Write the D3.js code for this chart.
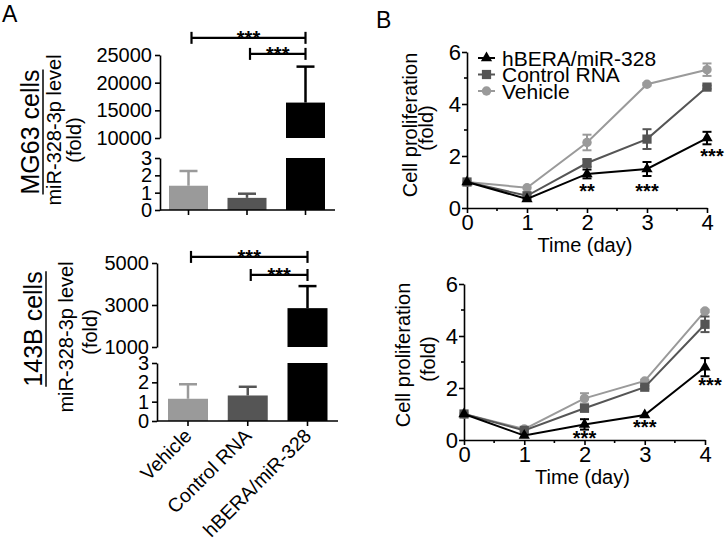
<!DOCTYPE html>
<html><head><meta charset="utf-8">
<script src="https://cdn.jsdelivr.net/npm/d3@7"></script>
<style>
body{margin:0;background:#fff}
svg{display:block}
text{font-family:"Liberation Sans",Arial,Helvetica,sans-serif;fill:#000}
</style>
</head><body>
<svg id="c" width="725" height="543"></svg>
<script>
// ---------- DATA ----------
const groups = ["Vehicle", "Control RNA", "hBERA/miR-328"];
const mg63Mean = [1.4, 0.7, 16400];
const mg63Err  = [0.85, 0.24, 6500];
const b143Mean = [1.15, 1.32, 2850];
const b143Err  = [0.75, 0.45, 1050];
const lowTicks = [0, 1, 2, 3];
const mg63HighTicks = [10000, 15000, 20000, 25000];
const b143HighTicks = [1000, 3000, 5000];
const mg63Sig = [
  {from: "Vehicle", to: "hBERA/miR-328", level: 28100, label: "***"},
  {from: "Control RNA", to: "hBERA/miR-328", level: 25200, label: "***"}
];
const b143Sig = [
  {from: "Vehicle", to: "hBERA/miR-328", level: 5290, label: "***"},
  {from: "Control RNA", to: "hBERA/miR-328", level: 4430, label: "***"}
];

const days = [0, 1, 2, 3, 4];
const seriesNames = ["hBERA/miR-328", "Control RNA", "Vehicle"];
const topHbera    = [1.0, 0.35, 1.31, 1.5, 2.69];
const topHberaErr = [0, 0, 0.17, 0.27, 0.24];
const topCtrl     = [1.0, 0.47, 1.73, 2.65, 4.65];
const topCtrlErr  = [0, 0, 0.15, 0.38, 0.06];
const topVeh      = [1.0, 0.78, 2.52, 4.76, 5.32];
const topVehErr   = [0, 0, 0.3, 0.05, 0.24];
const botHbera    = [1.0, 0.17, 0.6, 0.96, 2.8];
const botHberaErr = [0, 0, 0.2, 0, 0.35];
const botCtrl     = [1.0, 0.37, 1.22, 2.03, 4.45];
const botCtrlErr  = [0, 0, 0.08, 0.06, 0.3];
const botVeh      = [1.0, 0.42, 1.6, 2.27, 4.96];
const botVehErr   = [0, 0, 0.2, 0.05, 0.05];
const yTicksB = [0, 2, 4, 6];
const yMinorB = [1, 3, 5];
const xMinorB = [0.5, 1.5, 2.5, 3.5];
const topStars = [{day: 2, y: 0.77, label: "**"}, {day: 3, y: 0.77, label: "***"}, {day: 4, y: 2.1, label: "***"}];
const botStars = [{day: 2, y: 0.19, label: "***"}, {day: 3, y: 0.62, label: "***"}, {day: 4, y: 2.23, label: "***"}];

// ---------- STYLE ----------
const colors = {"Vehicle": "#9a9a9a", "Control RNA": "#555555", "hBERA/miR-328": "#000000"};
const symbols = {"hBERA/miR-328": d3.symbolTriangle, "Control RNA": d3.symbolSquare, "Vehicle": d3.symbolCircle};
const symSize = {"hBERA/miR-328": 55, "Control RNA": 85, "Vehicle": 70};

const svg = d3.select("#c");

function styleAxis(g, fs) {
  g.selectAll("path,line").attr("stroke", "#000").attr("stroke-width", 1.6);
  g.selectAll("text").attr("font-size", fs).attr("font-family", '"Liberation Sans",Arial,sans-serif').attr("fill", "#000");
}

function stars(g, x, yLine, label) {
  g.append("text").attr("x", x).attr("y", yLine).attr("text-anchor", "middle")
    .attr("font-size", 20).attr("font-weight", "bold").text(label);
}

function rotLabel(x, y, txt, fs, underline) {
  const t = svg.append("text").attr("transform", `translate(${x},${y}) rotate(-90)`)
    .attr("text-anchor", "middle").attr("font-size", fs).text(txt);
  if (underline) {
    const len = t.node().getComputedTextLength();
    svg.append("line").attr("x1", x + 4).attr("x2", x + 4)
      .attr("y1", y - len / 2).attr("y2", y + len / 2)
      .attr("stroke", "#000").attr("stroke-width", 1.5);
  }
}

// ---------- BAR PANELS (broken axis) ----------
function barPanel(cfg) {
  const g = svg.append("g");
  const x = d3.scalePoint().domain(groups).range(cfg.xCenters);
  const low = d3.scaleLinear().domain([0, 3]).range(cfg.lowRange);
  const high = d3.scaleLinear().domain(cfg.highDomain).range(cfg.highRange);
  const bw = cfg.barW;

  groups.forEach((grp, i) => {
    const m = cfg.mean[i], e = cfg.err[i], c = colors[grp];
    const cx = x(grp);
    let yTop, yErr;
    if (m <= 3) {
      g.append("rect").attr("x", cx - bw / 2).attr("width", bw)
        .attr("y", low(m)).attr("height", low(0) - low(m)).attr("fill", c);
      yTop = low(m); yErr = low(m + e);
    } else {
      g.append("rect").attr("x", cx - bw / 2).attr("width", bw)
        .attr("y", low(3)).attr("height", low(0) - low(3)).attr("fill", c);
      g.append("rect").attr("x", cx - bw / 2).attr("width", bw)
        .attr("y", high(m)).attr("height", high(cfg.highDomain[0]) - high(m)).attr("fill", c);
      yTop = high(m); yErr = high(m + e);
    }
    g.append("line").attr("x1", cx).attr("x2", cx).attr("y1", yTop).attr("y2", yErr)
      .attr("stroke", c).attr("stroke-width", 2.5);
    g.append("line").attr("x1", cx - 9).attr("x2", cx + 9).attr("y1", yErr).attr("y2", yErr)
      .attr("stroke", c).attr("stroke-width", 2.5);
  });

  const gl = g.append("g").attr("transform", `translate(${cfg.axisX},0)`)
    .call(d3.axisLeft(low).tickValues(lowTicks).tickFormat(d3.format("d")).tickSize(5).tickSizeOuter(0).tickPadding(3));
  styleAxis(gl, 20);
  const gh = g.append("g").attr("transform", `translate(${cfg.axisX},0)`)
    .call(d3.axisLeft(high).tickValues(cfg.highTicks).tickFormat(d3.format("d")).tickSize(5).tickSizeOuter(0).tickPadding(3));
  styleAxis(gh, 20);

  // x axis
  const y0 = low(0);
  g.append("line").attr("x1", cfg.axisX).attr("x2", cfg.xEnd).attr("y1", y0).attr("y2", y0)
    .attr("stroke", "#000").attr("stroke-width", 1.6);
  groups.forEach(grp => {
    g.append("line").attr("x1", x(grp)).attr("x2", x(grp)).attr("y1", y0).attr("y2", y0 + 5)
      .attr("stroke", "#000").attr("stroke-width", 1.6);
    if (cfg.xLabels) {
      g.append("text").attr("transform", `translate(${x(grp) + 5},${y0 + 16}) rotate(-45)`)
        .attr("text-anchor", "end").attr("font-size", 19.5).text(grp);
    }
  });

  // significance brackets
  cfg.sig.forEach(s => {
    const yb = high(s.level);
    const x1 = x(s.from) + 3, x2 = x(s.to);
    g.append("line").attr("x1", x1).attr("x2", x2).attr("y1", yb).attr("y2", yb)
      .attr("stroke", "#000").attr("stroke-width", 2.2);
    [x1, x2].forEach(xx => g.append("line").attr("x1", xx).attr("x2", xx)
      .attr("y1", yb - 6).attr("y2", yb + 6).attr("stroke", "#000").attr("stroke-width", 2.2));
    stars(g, (x1 + x2) / 2, yb + 7, s.label);
  });
}

barPanel({
  axisX: 160, xCenters: [188.5, 305.5], barW: 39, lowRange: [210, 158],
  highDomain: [10000, 25000], highRange: [138, 55], highTicks: mg63HighTicks,
  mean: mg63Mean, err: mg63Err, sig: mg63Sig, xEnd: 335, xLabels: false
});
barPanel({
  axisX: 157, xCenters: [188, 307.5], barW: 40, lowRange: [421, 363],
  highDomain: [1000, 5000], highRange: [347, 263], highTicks: b143HighTicks,
  mean: b143Mean, err: b143Err, sig: b143Sig, xEnd: 338, xLabels: true
});

rotLabel(39, 132, "MG63 cells", 25, true);
rotLabel(61, 130, "miR-328-3p level", 20, false);
rotLabel(81, 140, "(fold)", 20, false);
rotLabel(42, 329, "143B cells", 25, true);
rotLabel(73, 337, "miR-328-3p level", 20, false);
rotLabel(97, 332, "(fold)", 20, false);

// ---------- LINE PANELS ----------
function linePanel(cfg) {
  const g = svg.append("g");
  const x = d3.scaleLinear().domain([0, 4]).range(cfg.xRange);
  const y = d3.scaleLinear().domain([0, 6]).range(cfg.yRange);
  const line = d3.line().x((d, i) => x(days[i])).y(d => y(d));

  const gx = g.append("g").attr("transform", `translate(0,${y(0)})`)
    .call(d3.axisBottom(x).tickValues(days).tickFormat(d3.format("d")).tickSize(5).tickSizeOuter(0).tickPadding(1));
  styleAxis(gx, 22);
  xMinorB.forEach(v => g.append("line").attr("x1", x(v)).attr("x2", x(v)).attr("y1", y(0)).attr("y2", y(0) + 3)
    .attr("stroke", "#000").attr("stroke-width", 1.6));
  const gy = g.append("g").attr("transform", `translate(${x(0)},0)`)
    .call(d3.axisLeft(y).tickValues(yTicksB).tickFormat(d3.format("d")).tickSize(5).tickSizeOuter(0).tickPadding(1));
  styleAxis(gy, 22);
  yMinorB.forEach(v => g.append("line").attr("x1", x(0) - 3).attr("x2", x(0)).attr("y1", y(v)).attr("y2", y(v))
    .attr("stroke", "#000").attr("stroke-width", 1.6));

  const order = ["Vehicle", "Control RNA", "hBERA/miR-328"];
  order.forEach(name => {
    const vals = cfg.data[name], errs = cfg.err[name], c = colors[name];
    g.append("path").datum(vals).attr("d", line).attr("fill", "none")
      .attr("stroke", c).attr("stroke-width", 2);
    vals.forEach((v, i) => {
      const e = errs[i];
      if (e > 0) {
        const cx = x(days[i]);
        g.append("line").attr("x1", cx).attr("x2", cx).attr("y1", y(v - e)).attr("y2", y(v + e))
          .attr("stroke", c).attr("stroke-width", 2);
        [v - e, v + e].forEach(w => g.append("line").attr("x1", cx - 4.5).attr("x2", cx + 4.5)
          .attr("y1", y(w)).attr("y2", y(w)).attr("stroke", c).attr("stroke-width", 2));
      }
      g.append("path").attr("d", d3.symbol(symbols[name], symSize[name])())
        .attr("transform", `translate(${x(days[i])},${y(v)})`).attr("fill", c);
    });
  });

  cfg.stars.forEach(s => stars(g, x(s.day) + (s.day === 4 ? 5 : 0), y(s.y) + 10, s.label));

  g.append("text").attr("x", (cfg.xRange[0] + cfg.xRange[1]) / 2 - 2).attr("y", y(0) + 44)
    .attr("text-anchor", "middle").attr("font-size", 20).text("Time (day)");

  if (cfg.legend) {
    seriesNames.forEach((name, i) => {
      const ly = cfg.legendY + i * 16.5;
      g.append("line").attr("x1", cfg.legendX).attr("x2", cfg.legendX + 17).attr("y1", ly).attr("y2", ly)
        .attr("stroke", colors[name]).attr("stroke-width", 2);
      g.append("path").attr("d", d3.symbol(symbols[name], symSize[name])())
        .attr("transform", `translate(${cfg.legendX + 8.5},${ly})`).attr("fill", colors[name]);
      g.append("text").attr("x", cfg.legendX + 24).attr("y", ly + 7.5)
        .attr("font-size", 21).text(name);
    });
  }
}

linePanel({
  xRange: [467, 707], yRange: [208, 52],
  data: {"hBERA/miR-328": topHbera, "Control RNA": topCtrl, "Vehicle": topVeh},
  err: {"hBERA/miR-328": topHberaErr, "Control RNA": topCtrlErr, "Vehicle": topVehErr},
  stars: topStars, legend: true, legendX: 478, legendY: 58
});
linePanel({
  xRange: [464, 705], yRange: [440, 284],
  data: {"hBERA/miR-328": botHbera, "Control RNA": botCtrl, "Vehicle": botVeh},
  err: {"hBERA/miR-328": botHberaErr, "Control RNA": botCtrlErr, "Vehicle": botVehErr},
  stars: botStars, legend: false
});

rotLabel(417, 125, "Cell proliferation", 20, false);
rotLabel(433, 128, "(fold)", 20, false);
rotLabel(410, 355, "Cell proliferation", 20, false);
rotLabel(435, 359, "(fold)", 20, false);

svg.append("text").attr("x", 2).attr("y", 22).attr("font-size", 23).text("A");
svg.append("text").attr("x", 376).attr("y", 28).attr("font-size", 23).text("B");
</script>
</body></html>
